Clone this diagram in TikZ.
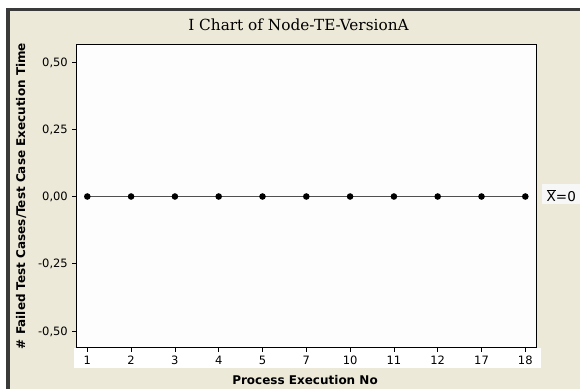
\documentclass[tikz,border=0pt]{standalone}
\usepackage{fontspec}
\setmainfont{DejaVu Sans}
\newfontfamily\titlefont{DejaVu Serif}
\definecolor{frame}{HTML}{3A3A3A}
\definecolor{beige}{HTML}{ECE9D8}
\definecolor{plotbg}{HTML}{FDFDFD}
\definecolor{dataline}{HTML}{505050}
\definecolor{xbarbg}{HTML}{F7F7F7}
\tikzset{
  ticklab/.style={inner sep=0pt, font=\fontsize{11.5bp}{13bp}\selectfont},
  axlab/.style={inner sep=0pt, font=\fontsize{12bp}{14bp}\selectfont\bfseries},
  pt/.style={circle, fill=black, inner sep=0pt, minimum size=6.6bp},
}
\begin{document}
\begin{tikzpicture}[x=1bp, y=-1bp]
\useasboundingbox (0,0) rectangle (580,389);
\fill[white] (0,0) rectangle (580,389);
\fill[frame] (6,8) rectangle (580,389);
\fill[beige] (10,11) rectangle (580,389);
% x label band
\fill[white] (74,348) rectangle (541,368);
% plot area
\draw[line width=0.9bp, fill=plotbg] (76.5,44) rectangle (536,347);
% title
\node[inner sep=0pt, anchor=base, font=\fontsize{15.3bp}{17bp}\selectfont\titlefont] (title) at (298.5,30) {I Chart of Node-TE-VersionA};
% y ticks
\foreach \v/\lab/\n in {62/{0,50}/a, 129.25/{0,25}/b, 196.5/{0,00}/c, 263.75/{-0,25}/d, 331/{-0,50}/e} {
  \coordinate (yt\n) at (76.5,\v);
  \draw[line width=0.8bp] (yt\n) -- ++(-4.5,0);
  \node[ticklab, anchor=base east] (yl\n) at (68,\v+4.2) {\lab};
}
% x ticks and points
\foreach \i/\lab in {0/1,1/2,2/3,3/4,4/5,5/7,6/10,7/11,8/12,9/17,10/18} {
  \coordinate (xt\i) at (87.3+43.8*\i,347);
  \draw[line width=0.8bp] (xt\i) -- ++(0,5);
  \node[ticklab, anchor=base] (xl\i) at (87.3+43.8*\i,364) {\lab};
  \coordinate (p\i) at (87.3+43.8*\i,196.5);
}
\draw[dataline, line width=1.2bp] (p0) -- (p1) -- (p2) -- (p3) -- (p4) -- (p5) -- (p6) -- (p7) -- (p8) -- (p9) -- (p10);
\foreach \i in {0,...,10} { \node[pt] (d\i) at (p\i) {}; }
% axis labels
\node[axlab, anchor=base] (xlab) at (305,384) {Process Execution No};
\node[axlab, anchor=base, rotate=90] (ylab) at (25,196) {\# Failed Test Cases/Test Case Execution Time};
% xbar
\fill[xbarbg] (541.5,184) rectangle (580,204);
\node[inner sep=0pt, anchor=base west, font=\fontsize{13.5bp}{15bp}\selectfont] (xbar) at (546.5,201) {$\overline{\mbox{X}}$=0};
\end{tikzpicture}
\end{document}
